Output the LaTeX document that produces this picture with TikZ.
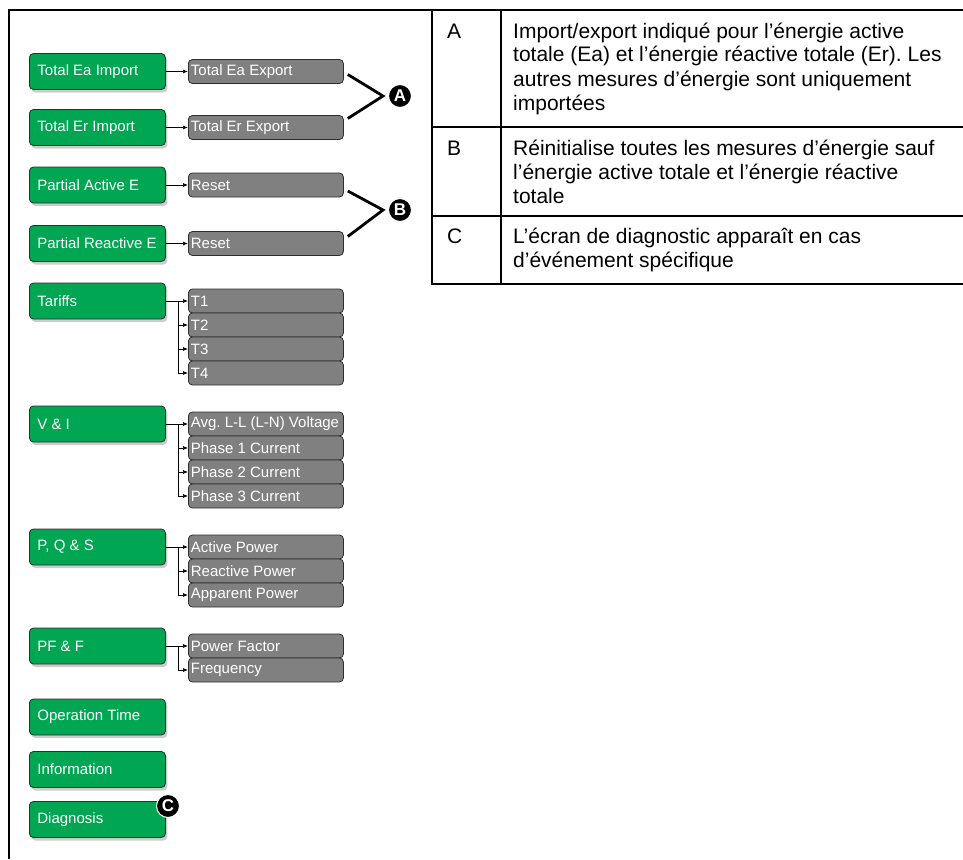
\documentclass[tikz,border=0pt]{standalone}
\usepackage{fontspec}
\setmainfont{Liberation Sans}
\usetikzlibrary{shadows,arrows.meta}
\definecolor{MenuGreen}{HTML}{00A651}
\definecolor{MenuGrey}{HTML}{808080}
\definecolor{MenuEdge}{HTML}{2E2E2E}
\newcommand{\boxtext}[2]{\makebox[#1][l]{#2}}
\tikzset{
  mainitem/.style={draw=MenuEdge, fill=MenuGreen, rounded corners=4pt, line width=0.8pt,
    anchor=west, minimum height=36pt, inner xsep=8pt,
    text=white, font=\fontsize{15}{18}\selectfont\frenchspacing,
    drop shadow={shadow xshift=2pt, shadow yshift=-3pt, opacity=0.4}},
  subitem/.style={draw=MenuEdge, fill=MenuGrey, rounded corners=4pt, line width=0.8pt,
    anchor=west, minimum height=24pt, inner xsep=2.5pt,
    text=white, font=\fontsize{15}{18}\selectfont\frenchspacing},
  feed/.style={-{Latex[length=5pt,width=4pt]}, line width=0.7pt},
  brace/.style={line width=2.8pt},
  callout/.style={circle, fill=black, draw=white, line width=1pt, inner sep=0pt,
    minimum size=23pt, text=white, font=\fontsize{17}{17}\selectfont\bfseries},
  cellkey/.style={anchor=base west, inner sep=0pt, font=\fontsize{21}{24}\selectfont},
  celltext/.style={anchor=base west, inner sep=0pt, align=left,
    font=\fontsize{21}{24}\selectfont\frenchspacing}
}
\begin{document}
\begin{tikzpicture}[x=1pt,y=-1pt]
  \useasboundingbox (0,0) rectangle (963,859);
  % frame and table rules
  \draw[line width=2pt] (9,859) -- (9,10) -- (963,10);
  \draw[line width=2pt] (432,10) -- (432,284) -- (963,284);
  \draw[line width=2pt] (501,10) -- (501,284);
  \draw[line width=2pt] (432,126.5) -- (963,126.5);
  \draw[line width=2pt] (432,215.5) -- (963,215.5);

  % left menu
  \foreach \n/\y/\lab in {ea/71.5/Total Ea Import, er/127.5/Total Er Import,
      pa/185/Partial Active E, pr/243.5/Partial Reactive E, tar/301/Tariffs,
      vi/424/V \& I, pqs/547/{P, Q \& S}, pff/646/PF \& F,
      opt/717/Operation Time, info/769.5/Information, diag/819.5/Diagnosis}
    \node[mainitem] (\n) at (29,\y) {\boxtext{120pt}{\lab}};

  \foreach \n/\y/\lab in {eaexp/71.5/Total Ea Export, erexp/127.5/Total Er Export,
      rst1/185/Reset, rst2/243.5/Reset,
      t1/301/T1, t2/325/T2, t3/349/T3, t4/373/T4,
      avg/424/Avg. L-L (L-N) Voltage, ph1/448/Phase 1 Current,
      ph2/472/Phase 2 Current, ph3/496/Phase 3 Current,
      actp/547/Active Power, reap/571/Reactive Power, appp/595/Apparent Power,
      pf/646/Power Factor, freq/670/Frequency}
    \node[subitem] (\n) at (188,\y) {\boxtext{150pt}{\lab}};

  % connectors
  \foreach \a/\b in {ea/eaexp, er/erexp, pa/rst1, pr/rst2, tar/t1, vi/avg, pqs/actp, pff/pf}
    \draw[feed] (\a.east) -- (\b.west);
  \foreach \a/\b in {tar/t2, tar/t3, tar/t4, vi/ph1, vi/ph2, vi/ph3, pqs/reap, pqs/appp, pff/freq}
    \draw[feed] ([xshift=13pt]\a.east) |- (\b.west);

  % callouts
  \node[callout] (markA) at (400,96) {A};
  \node[callout] (markB) at (400,210) {B};
  \node[callout] (markC) at (168,806) {C};
  \coordinate (tipA) at ([xshift=-5pt]markA.west);
  \coordinate (tipB) at ([xshift=-5pt]markB.west);
  \draw[brace] ([xshift=4pt,yshift=-3pt]eaexp.east) -- (tipA) -- ([xshift=4pt,yshift=9pt]erexp.east);
  \draw[brace] ([xshift=4pt,yshift=-6pt]rst1.east) -- (tipB) -- ([xshift=4pt,yshift=7pt]rst2.east);

  % table text (base = last line)
  \node[cellkey] (keyA) at (447,38) {A};
  \node[celltext] (txtA) at (513,110) {Import/export indiqué pour l’énergie active\\
    totale (Ea) et l’énergie réactive totale (Er). Les\\
    autres mesures d’énergie sont uniquement\\importées};
  \node[cellkey] (keyB) at (447,155) {B};
  \node[celltext] (txtB) at (513,203) {Réinitialise toutes les mesures d’énergie sauf\\
    l’énergie active totale et l’énergie réactive\\totale};
  \node[cellkey] (keyC) at (447,243) {C};
  \node[celltext] (txtC) at (513,267) {L’écran de diagnostic apparaît en cas\\
    d’événement spécifique};
\end{tikzpicture}
\end{document}
